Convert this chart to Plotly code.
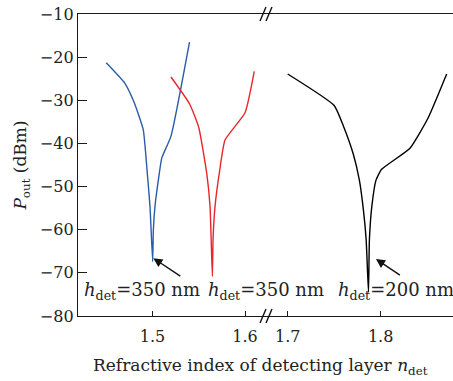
import plotly.graph_objects as go

# ---- data ----
blue_n = [1.45, 1.47, 1.48, 1.49, 1.4944, 1.4973, 1.5002, 1.5009, 1.5027, 1.5074, 1.51, 1.52, 1.54]
blue_p = [-21.3, -26.0, -30.4, -36.8, -46.9, -54.6, -67.4, -60.3, -54.6, -46.9, -43.4, -38.3, -16.5]

red_n = [1.52, 1.54, 1.55, 1.5586, 1.5622, 1.5647, 1.5655, 1.5676, 1.5722, 1.5784, 1.60, 1.61]
red_p = [-24.6, -30.8, -36.3, -46.9, -54.6, -70.8, -62.0, -54.6, -46.9, -39.2, -32.9, -23.3]

black_n = [1.70, 1.75, 1.76, 1.7706, 1.7771, 1.7815, 1.7844, 1.7869, 1.7879, 1.7905, 1.795, 1.801, 1.8315, 1.851, 1.871]
black_p = [-23.9, -31.2, -36.0, -42.5, -48.5, -55.5, -62.3, -74.5, -62.3, -54.6, -48.5, -46.0, -41.1, -34.1, -23.9]

left_ticks = [1.5, 1.6]
right_ticks = [1.7, 1.8]
y_ticks = [-80, -70, -60, -50, -40, -30, -20, -10]
labels = ["<i>h</i><sub>det</sub>=350 nm", "<i>h</i><sub>det</sub>=350 nm", "<i>h</i><sub>det</sub>=200 nm"]

FONT = "DejaVu Serif"
BLUE = "#2a5caa"
RED = "#e8262b"
AX = "#1a1a1a"

split = (265 - 78) / 375.0

fig = go.Figure()
line_kw = dict(width=1.4, shape="spline", smoothing=0.45)
fig.add_trace(go.Scatter(x=blue_n, y=blue_p, mode="lines", line=dict(color=BLUE, **line_kw),
                         xaxis="x", yaxis="y", showlegend=False))
fig.add_trace(go.Scatter(x=red_n, y=red_p, mode="lines", line=dict(color=RED, **line_kw),
                         xaxis="x", yaxis="y", showlegend=False))
fig.add_trace(go.Scatter(x=black_n, y=black_p, mode="lines", line=dict(color="black", **line_kw),
                         xaxis="x2", yaxis="y", showlegend=False))

xcommon = dict(showline=True, linecolor=AX, linewidth=1.4, mirror=True, ticks="inside",
               ticklen=5, tickwidth=1.2, tickcolor=AX, showgrid=False, zeroline=False,
               tickfont=dict(family=FONT, size=16, color="#222"), ticklabelstandoff=6)

fig.update_layout(
    width=453, height=381,
    margin=dict(l=78, r=0, t=14, b=65),
    plot_bgcolor="white", paper_bgcolor="white",
    xaxis=dict(domain=[0, split], range=[1.4195, 1.6216], tickvals=left_ticks,
               ticktext=[str(v) for v in left_ticks], **xcommon),
    xaxis2=dict(domain=[split, 1], range=[1.6756, 1.8778], tickvals=right_ticks,
                ticktext=[str(v) for v in right_ticks], anchor="y", **xcommon),
    yaxis=dict(range=[-80, -10], tickvals=y_ticks, showline=True, linecolor=AX, linewidth=1.4,
               ticks="inside", ticklen=9, tickwidth=1.2, tickcolor=AX, showgrid=False,
               zeroline=False, tickfont=dict(family=FONT, size=16, color="#222"),
               title=dict(text="<i>P</i><sub>out</sub> (dBm)", font=dict(family=FONT, size=17, color="#222"),
                          standoff=8)),
)

# x-axis title across both segments
fig.add_annotation(text="Refractive index of detecting layer <i>n</i><sub>det</sub>",
                   xref="paper", yref="paper", x=0.5 - 5 / 375, y=0, yshift=-50,
                   xanchor="center", yanchor="middle", showarrow=False,
                   font=dict(family=FONT, size=17, color="#222"))

# arrows to the dips
arrows = [("x", blue_n[6] + 0.0007, -66.6, 30, 20),
          ("x", red_n[5] + 0.005, -66.6, 27, 20),
          ("x2", black_n[7] + 0.008, -66.8, 27, 18)]
for xr, xv, yv, ax, ay in arrows:
    fig.add_annotation(x=xv, y=yv, xref=xr, yref="y", ax=ax, ay=ay, showarrow=True,
                       arrowhead=2, arrowsize=1.3, arrowwidth=1.4, arrowcolor="#111", text=" ")

# text labels
label_pos = [("x", 1.4252), ("x", 1.5585), ("x2", 1.7533)]
for (xr, xv), t in zip(label_pos, labels):
    fig.add_annotation(x=xv, y=-74.1, xref=xr, yref="y", text=t, showarrow=False,
                       xanchor="left", yanchor="middle", borderpad=0,
                       font=dict(family=FONT, size=18, color="#222"))

# axis-break marks
for yanc in (1, 0):
    for dx in (0, 6):
        fig.add_shape(type="line", xref="paper", yref="paper",
                      xsizemode="pixel", ysizemode="pixel", xanchor=split, yanchor=yanc,
                      x0=-5 + dx, x1=1 + dx, y0=-7, y1=7,
                      line=dict(color="#111", width=1.4))

fig.write_html("out.html")
